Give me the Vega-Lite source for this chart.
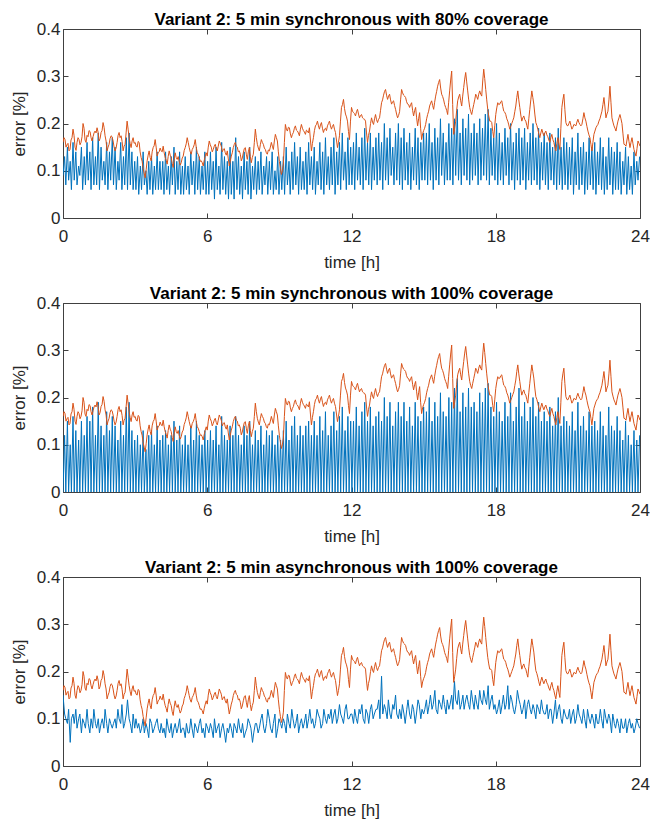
{
"$schema":"https://vega.github.io/schema/vega-lite/v6.json",
"padding":{"left":9,"top":10,"right":0,"bottom":5},
"background":"white",
"config":{
"font":"Liberation Sans",
"view":{"stroke":"#404040","strokeWidth":1},
"axis":{"labelFont":"Liberation Sans","labelFontSize":17,"labelColor":"#262626","labelFlush":false,"titleFont":"Liberation Sans","titleFontSize":17,"titleFontWeight":"normal","titleColor":"#262626","tickColor":"#404040","tickSize":-5,"domain":false,"grid":false},
"title":{"font":"Liberation Sans","fontSize":17,"fontWeight":"bold","color":"#000000","offset":-9,"anchor":"middle"}
},
"datasets":{
"orange":[
{"m":0,"o":0.160},{"m":5,"o":0.166},{"m":10,"o":0.155},{"m":15,"o":0.142},{"m":20,"o":0.165},{"m":25,"o":0.188},{"m":30,"o":0.150},{"m":35,"o":0.160},{"m":40,"o":0.166},{"m":45,"o":0.160},{"m":50,"o":0.200},{"m":55,"o":0.165},
{"m":60,"o":0.175},{"m":65,"o":0.185},{"m":70,"o":0.170},{"m":75,"o":0.172},{"m":80,"o":0.184},{"m":85,"o":0.191},{"m":90,"o":0.163},{"m":95,"o":0.181},{"m":100,"o":0.202},{"m":105,"o":0.174},{"m":110,"o":0.142},{"m":115,"o":0.156},
{"m":120,"o":0.174},{"m":125,"o":0.163},{"m":130,"o":0.142},{"m":135,"o":0.160},{"m":140,"o":0.181},{"m":145,"o":0.174},{"m":150,"o":0.142},{"m":155,"o":0.156},{"m":160,"o":0.205},{"m":165,"o":0.170},{"m":170,"o":0.149},{"m":175,"o":0.170},
{"m":180,"o":0.160},{"m":185,"o":0.150},{"m":190,"o":0.160},{"m":195,"o":0.128},{"m":200,"o":0.105},{"m":205,"o":0.085},{"m":210,"o":0.121},{"m":215,"o":0.142},{"m":220,"o":0.121},{"m":225,"o":0.149},{"m":230,"o":0.166},{"m":235,"o":0.131},
{"m":240,"o":0.140},{"m":245,"o":0.142},{"m":250,"o":0.152},{"m":255,"o":0.128},{"m":260,"o":0.114},{"m":265,"o":0.142},{"m":270,"o":0.128},{"m":275,"o":0.107},{"m":280,"o":0.138},{"m":285,"o":0.124},{"m":290,"o":0.120},{"m":295,"o":0.117},
{"m":300,"o":0.131},{"m":305,"o":0.149},{"m":310,"o":0.170},{"m":315,"o":0.149},{"m":320,"o":0.135},{"m":325,"o":0.149},{"m":330,"o":0.166},{"m":335,"o":0.138},{"m":340,"o":0.128},{"m":345,"o":0.121},{"m":350,"o":0.110},{"m":355,"o":0.131},
{"m":360,"o":0.131},{"m":365,"o":0.163},{"m":370,"o":0.150},{"m":375,"o":0.145},{"m":380,"o":0.156},{"m":385,"o":0.142},{"m":390,"o":0.163},{"m":395,"o":0.152},{"m":400,"o":0.145},{"m":405,"o":0.138},{"m":410,"o":0.142},{"m":415,"o":0.110},
{"m":420,"o":0.131},{"m":425,"o":0.149},{"m":430,"o":0.160},{"m":435,"o":0.150},{"m":440,"o":0.142},{"m":445,"o":0.121},{"m":450,"o":0.138},{"m":455,"o":0.149},{"m":460,"o":0.124},{"m":465,"o":0.149},{"m":470,"o":0.117},{"m":475,"o":0.135},
{"m":480,"o":0.188},{"m":485,"o":0.156},{"m":490,"o":0.142},{"m":495,"o":0.166},{"m":500,"o":0.156},{"m":505,"o":0.145},{"m":510,"o":0.135},{"m":515,"o":0.142},{"m":520,"o":0.160},{"m":525,"o":0.145},{"m":530,"o":0.177},{"m":535,"o":0.163},
{"m":540,"o":0.120},{"m":545,"o":0.092},{"m":550,"o":0.114},{"m":555,"o":0.198},{"m":560,"o":0.184},{"m":565,"o":0.191},{"m":570,"o":0.170},{"m":575,"o":0.181},{"m":580,"o":0.195},{"m":585,"o":0.184},{"m":590,"o":0.174},{"m":595,"o":0.198},
{"m":600,"o":0.185},{"m":605,"o":0.177},{"m":610,"o":0.184},{"m":615,"o":0.191},{"m":620,"o":0.142},{"m":625,"o":0.170},{"m":630,"o":0.195},{"m":635,"o":0.205},{"m":640,"o":0.188},{"m":645,"o":0.202},{"m":650,"o":0.181},{"m":655,"o":0.190},
{"m":660,"o":0.195},{"m":665,"o":0.205},{"m":670,"o":0.188},{"m":675,"o":0.198},{"m":680,"o":0.181},{"m":685,"o":0.149},{"m":690,"o":0.174},{"m":695,"o":0.234},{"m":700,"o":0.251},{"m":705,"o":0.220},{"m":710,"o":0.205},{"m":715,"o":0.166},
{"m":720,"o":0.234},{"m":725,"o":0.223},{"m":730,"o":0.216},{"m":735,"o":0.230},{"m":740,"o":0.212},{"m":745,"o":0.219},{"m":750,"o":0.210},{"m":755,"o":0.205},{"m":760,"o":0.160},{"m":765,"o":0.184},{"m":770,"o":0.212},{"m":775,"o":0.198},
{"m":780,"o":0.219},{"m":785,"o":0.202},{"m":790,"o":0.212},{"m":795,"o":0.244},{"m":800,"o":0.260},{"m":805,"o":0.272},{"m":810,"o":0.251},{"m":815,"o":0.262},{"m":820,"o":0.241},{"m":825,"o":0.248},{"m":830,"o":0.230},{"m":835,"o":0.212},
{"m":840,"o":0.225},{"m":845,"o":0.272},{"m":850,"o":0.260},{"m":855,"o":0.255},{"m":860,"o":0.241},{"m":865,"o":0.234},{"m":870,"o":0.244},{"m":875,"o":0.216},{"m":880,"o":0.234},{"m":885,"o":0.195},{"m":890,"o":0.223},{"m":895,"o":0.166},
{"m":900,"o":0.185},{"m":905,"o":0.198},{"m":910,"o":0.219},{"m":915,"o":0.237},{"m":920,"o":0.248},{"m":925,"o":0.230},{"m":930,"o":0.258},{"m":935,"o":0.279},{"m":940,"o":0.293},{"m":945,"o":0.262},{"m":950,"o":0.250},{"m":955,"o":0.234},
{"m":960,"o":0.219},{"m":965,"o":0.269},{"m":970,"o":0.311},{"m":975,"o":0.177},{"m":980,"o":0.205},{"m":985,"o":0.248},{"m":990,"o":0.262},{"m":995,"o":0.237},{"m":1000,"o":0.276},{"m":1005,"o":0.308},{"m":1010,"o":0.269},{"m":1015,"o":0.234},
{"m":1020,"o":0.219},{"m":1025,"o":0.240},{"m":1030,"o":0.262},{"m":1035,"o":0.251},{"m":1040,"o":0.269},{"m":1045,"o":0.258},{"m":1050,"o":0.315},{"m":1055,"o":0.272},{"m":1060,"o":0.230},{"m":1065,"o":0.205},{"m":1070,"o":0.202},{"m":1075,"o":0.170},
{"m":1080,"o":0.219},{"m":1085,"o":0.244},{"m":1090,"o":0.241},{"m":1095,"o":0.248},{"m":1100,"o":0.226},{"m":1105,"o":0.219},{"m":1110,"o":0.205},{"m":1115,"o":0.188},{"m":1120,"o":0.200},{"m":1125,"o":0.212},{"m":1130,"o":0.237},{"m":1135,"o":0.269},
{"m":1140,"o":0.234},{"m":1145,"o":0.205},{"m":1150,"o":0.216},{"m":1155,"o":0.205},{"m":1160,"o":0.188},{"m":1165,"o":0.230},{"m":1170,"o":0.269},{"m":1175,"o":0.241},{"m":1180,"o":0.202},{"m":1185,"o":0.188},{"m":1190,"o":0.170},{"m":1195,"o":0.188},
{"m":1200,"o":0.174},{"m":1205,"o":0.184},{"m":1210,"o":0.172},{"m":1215,"o":0.160},{"m":1220,"o":0.177},{"m":1225,"o":0.160},{"m":1230,"o":0.142},{"m":1235,"o":0.170},{"m":1240,"o":0.145},{"m":1245,"o":0.234},{"m":1250,"o":0.262},{"m":1255,"o":0.202},
{"m":1260,"o":0.195},{"m":1265,"o":0.205},{"m":1270,"o":0.188},{"m":1275,"o":0.198},{"m":1280,"o":0.195},{"m":1285,"o":0.209},{"m":1290,"o":0.198},{"m":1295,"o":0.198},{"m":1300,"o":0.223},{"m":1305,"o":0.205},{"m":1310,"o":0.184},{"m":1315,"o":0.170},
{"m":1320,"o":0.142},{"m":1325,"o":0.177},{"m":1330,"o":0.191},{"m":1335,"o":0.198},{"m":1340,"o":0.210},{"m":1345,"o":0.226},{"m":1350,"o":0.255},{"m":1355,"o":0.212},{"m":1360,"o":0.226},{"m":1365,"o":0.279},{"m":1370,"o":0.212},{"m":1375,"o":0.195},
{"m":1380,"o":0.184},{"m":1385,"o":0.205},{"m":1390,"o":0.219},{"m":1395,"o":0.200},{"m":1400,"o":0.156},{"m":1405,"o":0.152},{"m":1410,"o":0.177},{"m":1415,"o":0.149},{"m":1420,"o":0.170},{"m":1425,"o":0.145},{"m":1430,"o":0.131},{"m":1435,"o":0.163},
{"m":1440,"o":0.152},
{"m":2.5,"o":0.170},{"m":7.5,"o":0.150},{"m":12.5,"o":0.158},{"m":17.5,"o":0.145},{"m":22.5,"o":0.170},{"m":27.5,"o":0.175},{"m":32.5,"o":0.143},{"m":37.5,"o":0.170},{"m":42.5,"o":0.155},{"m":47.5,"o":0.172},{"m":52.5,"o":0.190},{"m":57.5,"o":0.160},
{"m":62.5,"o":0.172},{"m":67.5,"o":0.183},{"m":72.5,"o":0.163},{"m":77.5,"o":0.180},{"m":82.5,"o":0.180},{"m":87.5,"o":0.182},{"m":92.5,"o":0.168},{"m":97.5,"o":0.185},{"m":102.5,"o":0.192},{"m":107.5,"o":0.163},{"m":112.5,"o":0.150},{"m":117.5,"o":0.168},
{"m":122.5,"o":0.172},{"m":127.5,"o":0.150},{"m":132.5,"o":0.148},{"m":137.5,"o":0.175},{"m":142.5,"o":0.170},{"m":147.5,"o":0.162},{"m":152.5,"o":0.152},{"m":157.5,"o":0.180},{"m":162.5,"o":0.188},{"m":167.5,"o":0.158},{"m":172.5,"o":0.163},{"m":177.5,"o":0.158},
{"m":182.5,"o":0.152},{"m":187.5,"o":0.162},{"m":192.5,"o":0.140},{"m":197.5,"o":0.120},{"m":202.5,"o":0.095},{"m":207.5,"o":0.102},{"m":212.5,"o":0.133},{"m":217.5,"o":0.128},{"m":222.5,"o":0.140},{"m":227.5,"o":0.153},{"m":232.5,"o":0.150},{"m":237.5,"o":0.138},
{"m":242.5,"o":0.148},{"m":247.5,"o":0.140},{"m":252.5,"o":0.138},{"m":257.5,"o":0.122},{"m":262.5,"o":0.130},{"m":267.5,"o":0.133},{"m":272.5,"o":0.115},{"m":277.5,"o":0.125},{"m":282.5,"o":0.128},{"m":287.5,"o":0.130},{"m":292.5,"o":0.112},{"m":297.5,"o":0.127},
{"m":302.5,"o":0.143},{"m":307.5,"o":0.157},{"m":312.5,"o":0.160},{"m":317.5,"o":0.140},{"m":322.5,"o":0.145},{"m":327.5,"o":0.155},{"m":332.5,"o":0.150},{"m":337.5,"o":0.135},{"m":342.5,"o":0.120},{"m":347.5,"o":0.117},{"m":352.5,"o":0.122},{"m":357.5,"o":0.138},
{"m":362.5,"o":0.150},{"m":367.5,"o":0.155},{"m":372.5,"o":0.140},{"m":377.5,"o":0.152},{"m":382.5,"o":0.147},{"m":387.5,"o":0.152},{"m":392.5,"o":0.158},{"m":397.5,"o":0.140},{"m":402.5,"o":0.147},{"m":407.5,"o":0.133},{"m":412.5,"o":0.125},{"m":417.5,"o":0.120},
{"m":422.5,"o":0.138},{"m":427.5,"o":0.156},{"m":432.5,"o":0.152},{"m":437.5,"o":0.140},{"m":442.5,"o":0.135},{"m":447.5,"o":0.127},{"m":452.5,"o":0.147},{"m":457.5,"o":0.135},{"m":462.5,"o":0.140},{"m":467.5,"o":0.130},{"m":472.5,"o":0.128},{"m":477.5,"o":0.160},
{"m":482.5,"o":0.170},{"m":487.5,"o":0.148},{"m":492.5,"o":0.155},{"m":497.5,"o":0.160},{"m":502.5,"o":0.148},{"m":507.5,"o":0.138},{"m":512.5,"o":0.144},{"m":517.5,"o":0.150},{"m":522.5,"o":0.152},{"m":527.5,"o":0.163},{"m":532.5,"o":0.170},{"m":537.5,"o":0.140},
{"m":542.5,"o":0.105},{"m":547.5,"o":0.100},{"m":552.5,"o":0.160},{"m":557.5,"o":0.188},{"m":562.5,"o":0.192},{"m":567.5,"o":0.178},{"m":572.5,"o":0.177},{"m":577.5,"o":0.190},{"m":582.5,"o":0.186},{"m":587.5,"o":0.180},{"m":592.5,"o":0.188},{"m":597.5,"o":0.190},
{"m":602.5,"o":0.182},{"m":607.5,"o":0.186},{"m":612.5,"o":0.180},{"m":617.5,"o":0.165},{"m":622.5,"o":0.158},{"m":627.5,"o":0.185},{"m":632.5,"o":0.198},{"m":637.5,"o":0.195},{"m":642.5,"o":0.197},{"m":647.5,"o":0.190},{"m":652.5,"o":0.188},{"m":657.5,"o":0.185},
{"m":662.5,"o":0.200},{"m":667.5,"o":0.195},{"m":672.5,"o":0.194},{"m":677.5,"o":0.188},{"m":682.5,"o":0.165},{"m":687.5,"o":0.160},{"m":692.5,"o":0.205},{"m":697.5,"o":0.240},{"m":702.5,"o":0.232},{"m":707.5,"o":0.214},{"m":712.5,"o":0.183},{"m":717.5,"o":0.205},
{"m":722.5,"o":0.226},{"m":727.5,"o":0.221},{"m":732.5,"o":0.225},{"m":737.5,"o":0.220},{"m":742.5,"o":0.217},{"m":747.5,"o":0.212},{"m":752.5,"o":0.209},{"m":757.5,"o":0.180},{"m":762.5,"o":0.175},{"m":767.5,"o":0.200},{"m":772.5,"o":0.203},{"m":777.5,"o":0.210},
{"m":782.5,"o":0.208},{"m":787.5,"o":0.209},{"m":792.5,"o":0.228},{"m":797.5,"o":0.250},{"m":802.5,"o":0.268},{"m":807.5,"o":0.260},{"m":812.5,"o":0.258},{"m":817.5,"o":0.250},{"m":822.5,"o":0.246},{"m":827.5,"o":0.238},{"m":832.5,"o":0.220},{"m":837.5,"o":0.217},
{"m":842.5,"o":0.250},{"m":847.5,"o":0.265},{"m":852.5,"o":0.258},{"m":857.5,"o":0.246},{"m":862.5,"o":0.240},{"m":867.5,"o":0.240},{"m":872.5,"o":0.228},{"m":877.5,"o":0.227},{"m":882.5,"o":0.212},{"m":887.5,"o":0.210},{"m":892.5,"o":0.190},{"m":897.5,"o":0.178},
{"m":902.5,"o":0.190},{"m":907.5,"o":0.210},{"m":912.5,"o":0.226},{"m":917.5,"o":0.243},{"m":922.5,"o":0.238},{"m":927.5,"o":0.245},{"m":932.5,"o":0.268},{"m":937.5,"o":0.287},{"m":942.5,"o":0.275},{"m":947.5,"o":0.257},{"m":952.5,"o":0.240},{"m":957.5,"o":0.228},
{"m":962.5,"o":0.245},{"m":967.5,"o":0.292},{"m":972.5,"o":0.240},{"m":977.5,"o":0.190},{"m":982.5,"o":0.228},{"m":987.5,"o":0.256},{"m":992.5,"o":0.248},{"m":997.5,"o":0.258},{"m":1002.5,"o":0.294},{"m":1007.5,"o":0.288},{"m":1012.5,"o":0.250},{"m":1017.5,"o":0.225},
{"m":1022.5,"o":0.230},{"m":1027.5,"o":0.250},{"m":1032.5,"o":0.257},{"m":1037.5,"o":0.262},{"m":1042.5,"o":0.262},{"m":1047.5,"o":0.290},{"m":1052.5,"o":0.295},{"m":1057.5,"o":0.250},{"m":1062.5,"o":0.216},{"m":1067.5,"o":0.205},{"m":1072.5,"o":0.183},{"m":1077.5,"o":0.195},
{"m":1082.5,"o":0.233},{"m":1087.5,"o":0.240},{"m":1092.5,"o":0.246},{"m":1097.5,"o":0.236},{"m":1102.5,"o":0.224},{"m":1107.5,"o":0.210},{"m":1112.5,"o":0.197},{"m":1117.5,"o":0.194},{"m":1122.5,"o":0.206},{"m":1127.5,"o":0.225},{"m":1132.5,"o":0.255},{"m":1137.5,"o":0.250},
{"m":1142.5,"o":0.218},{"m":1147.5,"o":0.212},{"m":1152.5,"o":0.208},{"m":1157.5,"o":0.196},{"m":1162.5,"o":0.210},{"m":1167.5,"o":0.250},{"m":1172.5,"o":0.255},{"m":1177.5,"o":0.220},{"m":1182.5,"o":0.196},{"m":1187.5,"o":0.178},{"m":1192.5,"o":0.180},{"m":1197.5,"o":0.180},
{"m":1202.5,"o":0.180},{"m":1207.5,"o":0.176},{"m":1212.5,"o":0.165},{"m":1217.5,"o":0.170},{"m":1222.5,"o":0.166},{"m":1227.5,"o":0.150},{"m":1232.5,"o":0.158},{"m":1237.5,"o":0.156},{"m":1242.5,"o":0.190},{"m":1247.5,"o":0.250},{"m":1252.5,"o":0.230},{"m":1257.5,"o":0.196},
{"m":1262.5,"o":0.200},{"m":1267.5,"o":0.196},{"m":1272.5,"o":0.192},{"m":1277.5,"o":0.197},{"m":1282.5,"o":0.203},{"m":1287.5,"o":0.202},{"m":1292.5,"o":0.195},{"m":1297.5,"o":0.210},{"m":1302.5,"o":0.212},{"m":1307.5,"o":0.194},{"m":1312.5,"o":0.176},{"m":1317.5,"o":0.156},
{"m":1322.5,"o":0.160},{"m":1327.5,"o":0.184},{"m":1332.5,"o":0.195},{"m":1337.5,"o":0.205},{"m":1342.5,"o":0.218},{"m":1347.5,"o":0.240},{"m":1352.5,"o":0.235},{"m":1357.5,"o":0.220},{"m":1362.5,"o":0.250},{"m":1367.5,"o":0.245},{"m":1372.5,"o":0.203},{"m":1377.5,"o":0.190},
{"m":1382.5,"o":0.195},{"m":1387.5,"o":0.212},{"m":1392.5,"o":0.210},{"m":1397.5,"o":0.178},{"m":1402.5,"o":0.155},{"m":1407.5,"o":0.165},{"m":1412.5,"o":0.162},{"m":1417.5,"o":0.160},{"m":1422.5,"o":0.157},{"m":1427.5,"o":0.138},{"m":1432.5,"o":0.147},{"m":1437.5,"o":0.158}
],
"blue":[
{"m":0,"a":0.09,"b":0,"c":0.15},{"m":4,"a":0.13,"b":0.12,"c":0.11},
{"m":7,"a":0.07,"b":0,"c":0.10},{"m":11,"a":0.15,"b":0.15,"c":0.09},
{"m":14,"a":0.08,"b":0,"c":0.12},{"m":18,"a":0.12,"b":0.10,"c":0.05},
{"m":21,"a":0.06,"b":0,"c":0.10},{"m":25,"a":0.16,"b":0.16,"c":0.11},
{"m":28,"a":0.08,"b":0,"c":0.09},{"m":32,"a":0.14,"b":0.13,"c":0.12},
{"m":35,"a":0.07,"b":0,"c":0.08},{"m":39,"a":0.11,"b":0.11,"c":0.10},
{"m":42,"a":0.09,"b":0,"c":0.11},{"m":46,"a":0.15,"b":0.15,"c":0.07},
{"m":49,"a":0.06,"b":0,"c":0.10},{"m":53,"a":0.13,"b":0.12,"c":0.09},
{"m":56,"a":0.07,"b":0,"c":0.08},{"m":60,"a":0.16,"b":0.16,"c":0.12},
{"m":63,"a":0.08,"b":0,"c":0.09},{"m":67,"a":0.14,"b":0.15,"c":0.07},
{"m":70,"a":0.06,"b":0,"c":0.10},{"m":74,"a":0.17,"b":0.18,"c":0.08},
{"m":77,"a":0.07,"b":0,"c":0.12},{"m":81,"a":0.13,"b":0.12,"c":0.09},
{"m":84,"a":0.07,"b":0,"c":0.08},{"m":88,"a":0.18,"b":0.19,"c":0.10},
{"m":91,"a":0.06,"b":0,"c":0.07},{"m":95,"a":0.15,"b":0.14,"c":0.09},
{"m":98,"a":0.08,"b":0,"c":0.10},{"m":102,"a":0.12,"b":0.12,"c":0.08},
{"m":105,"a":0.07,"b":0,"c":0.12},{"m":109,"a":0.16,"b":0.17,"c":0.09},
{"m":112,"a":0.06,"b":0,"c":0.07},{"m":116,"a":0.14,"b":0.13,"c":0.10},
{"m":119,"a":0.08,"b":0,"c":0.09},{"m":123,"a":0.17,"b":0.16,"c":0.08},
{"m":126,"a":0.07,"b":0,"c":0.09},{"m":130,"a":0.15,"b":0.14,"c":0.10},
{"m":133,"a":0.06,"b":0,"c":0.08},{"m":137,"a":0.12,"b":0.11,"c":0.12},
{"m":140,"a":0.08,"b":0,"c":0.10},{"m":144,"a":0.16,"b":0.15,"c":0.09},
{"m":147,"a":0.06,"b":0,"c":0.13},{"m":151,"a":0.13,"b":0.12,"c":0.08},
{"m":154,"a":0.07,"b":0,"c":0.09},{"m":158,"a":0.17,"b":0.18,"c":0.11},
{"m":161,"a":0.06,"b":0,"c":0.14},{"m":165,"a":0.18,"b":0.19,"c":0.10},
{"m":168,"a":0.07,"b":0,"c":0.09},{"m":172,"a":0.14,"b":0.13,"c":0.07},
{"m":175,"a":0.06,"b":0,"c":0.11},{"m":179,"a":0.12,"b":0.11,"c":0.08},
{"m":182,"a":0.06,"b":0,"c":0.10},{"m":186,"a":0.13,"b":0.12,"c":0.08},
{"m":189,"a":0.05,"b":0,"c":0.09},{"m":193,"a":0.11,"b":0.10,"c":0.07},
{"m":196,"a":0.06,"b":0,"c":0.08},{"m":200,"a":0.14,"b":0.13,"c":0.10},
{"m":203,"a":0.07,"b":0,"c":0.07},{"m":207,"a":0.10,"b":0.09,"c":0.09},
{"m":210,"a":0.05,"b":0,"c":0.08},{"m":214,"a":0.12,"b":0.12,"c":0.06},
{"m":217,"a":0.06,"b":0,"c":0.10},{"m":221,"a":0.13,"b":0.13,"c":0.09},
{"m":224,"a":0.05,"b":0,"c":0.07},{"m":228,"a":0.11,"b":0.10,"c":0.08},
{"m":231,"a":0.06,"b":0,"c":0.09},{"m":235,"a":0.14,"b":0.14,"c":0.10},
{"m":238,"a":0.06,"b":0,"c":0.08},{"m":242,"a":0.12,"b":0.11,"c":0.07},
{"m":245,"a":0.06,"b":0,"c":0.09},{"m":249,"a":0.12,"b":0.12,"c":0.07},
{"m":252,"a":0.05,"b":0,"c":0.08},{"m":256,"a":0.14,"b":0.13,"c":0.06},
{"m":259,"a":0.06,"b":0,"c":0.10},{"m":263,"a":0.11,"b":0.10,"c":0.08},
{"m":266,"a":0.05,"b":0,"c":0.07},{"m":270,"a":0.13,"b":0.12,"c":0.09},
{"m":273,"a":0.07,"b":0,"c":0.06},{"m":277,"a":0.15,"b":0.15,"c":0.08},
{"m":280,"a":0.05,"b":0,"c":0.09},{"m":284,"a":0.12,"b":0.11,"c":0.07},
{"m":287,"a":0.06,"b":0,"c":0.08},{"m":291,"a":0.14,"b":0.14,"c":0.10},
{"m":294,"a":0.05,"b":0,"c":0.07},{"m":298,"a":0.11,"b":0.10,"c":0.08},
{"m":301,"a":0.05,"b":0,"c":0.08},{"m":305,"a":0.13,"b":0.12,"c":0.06},
{"m":308,"a":0.06,"b":0,"c":0.09},{"m":312,"a":0.11,"b":0.10,"c":0.07},
{"m":315,"a":0.05,"b":0,"c":0.07},{"m":319,"a":0.14,"b":0.14,"c":0.10},
{"m":322,"a":0.07,"b":0,"c":0.08},{"m":326,"a":0.12,"b":0.11,"c":0.06},
{"m":329,"a":0.05,"b":0,"c":0.09},{"m":333,"a":0.15,"b":0.15,"c":0.08},
{"m":336,"a":0.06,"b":0,"c":0.07},{"m":340,"a":0.13,"b":0.12,"c":0.09},
{"m":343,"a":0.05,"b":0,"c":0.10},{"m":347,"a":0.11,"b":0.10,"c":0.07},
{"m":350,"a":0.06,"b":0,"c":0.08},{"m":354,"a":0.14,"b":0.13,"c":0.06},
{"m":357,"a":0.05,"b":0,"c":0.09},{"m":361,"a":0.12,"b":0.11,"c":0.08},
{"m":364,"a":0.05,"b":0,"c":0.07},{"m":368,"a":0.14,"b":0.13,"c":0.09},
{"m":371,"a":0.06,"b":0,"c":0.08},{"m":375,"a":0.12,"b":0.11,"c":0.06},
{"m":378,"a":0.04,"b":0,"c":0.10},{"m":382,"a":0.15,"b":0.14,"c":0.07},
{"m":385,"a":0.06,"b":0,"c":0.08},{"m":389,"a":0.11,"b":0.10,"c":0.09},
{"m":392,"a":0.05,"b":0,"c":0.06},{"m":396,"a":0.16,"b":0.16,"c":0.08},
{"m":399,"a":0.06,"b":0,"c":0.09},{"m":403,"a":0.13,"b":0.12,"c":0.07},
{"m":406,"a":0.05,"b":0,"c":0.05},{"m":410,"a":0.12,"b":0.11,"c":0.08},
{"m":413,"a":0.04,"b":0,"c":0.07},{"m":417,"a":0.15,"b":0.14,"c":0.09},
{"m":420,"a":0.05,"b":0,"c":0.08},{"m":424,"a":0.12,"b":0.12,"c":0.06},
{"m":427,"a":0.04,"b":0,"c":0.09},{"m":431,"a":0.17,"b":0.16,"c":0.08},
{"m":434,"a":0.06,"b":0,"c":0.07},{"m":438,"a":0.13,"b":0.12,"c":0.10},
{"m":441,"a":0.05,"b":0,"c":0.08},{"m":445,"a":0.11,"b":0.10,"c":0.07},
{"m":448,"a":0.04,"b":0,"c":0.09},{"m":452,"a":0.14,"b":0.14,"c":0.06},
{"m":455,"a":0.06,"b":0,"c":0.07},{"m":459,"a":0.12,"b":0.12,"c":0.08},
{"m":462,"a":0.05,"b":0,"c":0.10},{"m":466,"a":0.15,"b":0.15,"c":0.09},
{"m":469,"a":0.04,"b":0,"c":0.08},{"m":473,"a":0.11,"b":0.10,"c":0.05},
{"m":476,"a":0.06,"b":0,"c":0.07},{"m":480,"a":0.13,"b":0.13,"c":0.09},
{"m":483,"a":0.05,"b":0,"c":0.09},{"m":487,"a":0.12,"b":0.11,"c":0.07},
{"m":490,"a":0.06,"b":0,"c":0.08},{"m":494,"a":0.14,"b":0.14,"c":0.10},
{"m":497,"a":0.05,"b":0,"c":0.11},{"m":501,"a":0.11,"b":0.10,"c":0.08},
{"m":504,"a":0.07,"b":0,"c":0.07},{"m":508,"a":0.13,"b":0.13,"c":0.09},
{"m":511,"a":0.05,"b":0,"c":0.12},{"m":515,"a":0.12,"b":0.12,"c":0.10},
{"m":518,"a":0.06,"b":0,"c":0.08},{"m":522,"a":0.14,"b":0.13,"c":0.07},
{"m":525,"a":0.05,"b":0,"c":0.09},{"m":529,"a":0.10,"b":0.10,"c":0.11},
{"m":532,"a":0.06,"b":0,"c":0.06},{"m":536,"a":0.13,"b":0.12,"c":0.08},
{"m":539,"a":0.05,"b":0,"c":0.10},{"m":543,"a":0.12,"b":0.11,"c":0.09},
{"m":546,"a":0.06,"b":0,"c":0.08},{"m":550,"a":0.13,"b":0.13,"c":0.10},
{"m":553,"a":0.05,"b":0,"c":0.09},{"m":557,"a":0.15,"b":0.15,"c":0.07},
{"m":560,"a":0.07,"b":0,"c":0.11},{"m":564,"a":0.12,"b":0.11,"c":0.09},
{"m":567,"a":0.05,"b":0,"c":0.08},{"m":571,"a":0.14,"b":0.14,"c":0.12},
{"m":574,"a":0.06,"b":0,"c":0.10},{"m":578,"a":0.16,"b":0.16,"c":0.08},
{"m":581,"a":0.07,"b":0,"c":0.09},{"m":585,"a":0.13,"b":0.12,"c":0.11},
{"m":588,"a":0.05,"b":0,"c":0.07},{"m":592,"a":0.15,"b":0.14,"c":0.09},
{"m":595,"a":0.06,"b":0,"c":0.10},{"m":599,"a":0.12,"b":0.12,"c":0.08},
{"m":602,"a":0.06,"b":0,"c":0.09},{"m":606,"a":0.14,"b":0.14,"c":0.11},
{"m":609,"a":0.05,"b":0,"c":0.08},{"m":613,"a":0.16,"b":0.15,"c":0.10},
{"m":616,"a":0.07,"b":0,"c":0.12},{"m":620,"a":0.13,"b":0.12,"c":0.09},
{"m":623,"a":0.06,"b":0,"c":0.10},{"m":627,"a":0.15,"b":0.15,"c":0.08},
{"m":630,"a":0.05,"b":0,"c":0.09},{"m":634,"a":0.12,"b":0.12,"c":0.12},
{"m":637,"a":0.07,"b":0,"c":0.11},{"m":641,"a":0.16,"b":0.16,"c":0.10},
{"m":644,"a":0.06,"b":0,"c":0.08},{"m":648,"a":0.14,"b":0.13,"c":0.09},
{"m":651,"a":0.05,"b":0,"c":0.12},{"m":655,"a":0.17,"b":0.17,"c":0.10},
{"m":658,"a":0.07,"b":0,"c":0.09},{"m":662,"a":0.13,"b":0.12,"c":0.11},
{"m":665,"a":0.06,"b":0,"c":0.10},{"m":669,"a":0.15,"b":0.14,"c":0.12},
{"m":672,"a":0.07,"b":0,"c":0.09},{"m":676,"a":0.17,"b":0.17,"c":0.11},
{"m":679,"a":0.05,"b":0,"c":0.12},{"m":683,"a":0.14,"b":0.13,"c":0.09},
{"m":686,"a":0.07,"b":0,"c":0.10},{"m":690,"a":0.16,"b":0.16,"c":0.13},
{"m":693,"a":0.06,"b":0,"c":0.11},{"m":697,"a":0.18,"b":0.18,"c":0.10},
{"m":700,"a":0.08,"b":0,"c":0.09},{"m":704,"a":0.14,"b":0.13,"c":0.12},
{"m":707,"a":0.06,"b":0,"c":0.13},{"m":711,"a":0.17,"b":0.16,"c":0.10},
{"m":714,"a":0.07,"b":0,"c":0.10},{"m":718,"a":0.15,"b":0.15,"c":0.11},
{"m":721,"a":0.07,"b":0,"c":0.11},{"m":725,"a":0.16,"b":0.15,"c":0.09},
{"m":728,"a":0.06,"b":0,"c":0.12},{"m":732,"a":0.18,"b":0.18,"c":0.10},
{"m":735,"a":0.08,"b":0,"c":0.09},{"m":739,"a":0.15,"b":0.14,"c":0.12},
{"m":742,"a":0.07,"b":0,"c":0.11},{"m":746,"a":0.17,"b":0.17,"c":0.13},
{"m":749,"a":0.06,"b":0,"c":0.10},{"m":753,"a":0.19,"b":0.19,"c":0.09},
{"m":756,"a":0.08,"b":0,"c":0.12},{"m":760,"a":0.16,"b":0.15,"c":0.11},
{"m":763,"a":0.07,"b":0,"c":0.09},{"m":767,"a":0.18,"b":0.18,"c":0.12},
{"m":770,"a":0.06,"b":0,"c":0.13},{"m":774,"a":0.15,"b":0.14,"c":0.10},
{"m":777,"a":0.08,"b":0,"c":0.11},{"m":781,"a":0.17,"b":0.16,"c":0.12},
{"m":784,"a":0.07,"b":0,"c":0.12},{"m":788,"a":0.18,"b":0.17,"c":0.14},
{"m":791,"a":0.08,"b":0,"c":0.10},{"m":795,"a":0.16,"b":0.15,"c":0.19},
{"m":798,"a":0.06,"b":0,"c":0.11},{"m":802,"a":0.20,"b":0.20,"c":0.13},
{"m":805,"a":0.08,"b":0,"c":0.12},{"m":809,"a":0.17,"b":0.16,"c":0.10},
{"m":812,"a":0.07,"b":0,"c":0.14},{"m":816,"a":0.19,"b":0.19,"c":0.11},
{"m":819,"a":0.09,"b":0,"c":0.10},{"m":823,"a":0.15,"b":0.14,"c":0.13},
{"m":826,"a":0.07,"b":0,"c":0.12},{"m":830,"a":0.18,"b":0.17,"c":0.15},
{"m":833,"a":0.08,"b":0,"c":0.11},{"m":837,"a":0.20,"b":0.19,"c":0.10},
{"m":840,"a":0.07,"b":0,"c":0.12},{"m":844,"a":0.17,"b":0.16,"c":0.10},
{"m":847,"a":0.06,"b":0,"c":0.13},{"m":851,"a":0.19,"b":0.19,"c":0.11},
{"m":854,"a":0.08,"b":0,"c":0.09},{"m":858,"a":0.16,"b":0.15,"c":0.12},
{"m":861,"a":0.07,"b":0,"c":0.14},{"m":865,"a":0.18,"b":0.18,"c":0.11},
{"m":868,"a":0.06,"b":0,"c":0.10},{"m":872,"a":0.15,"b":0.14,"c":0.13},
{"m":875,"a":0.08,"b":0,"c":0.12},{"m":879,"a":0.19,"b":0.19,"c":0.09},
{"m":882,"a":0.07,"b":0,"c":0.11},{"m":886,"a":0.17,"b":0.16,"c":0.14},
{"m":889,"a":0.06,"b":0,"c":0.13},{"m":893,"a":0.16,"b":0.15,"c":0.10},
{"m":896,"a":0.08,"b":0,"c":0.12},{"m":900,"a":0.18,"b":0.18,"c":0.11},
{"m":903,"a":0.08,"b":0,"c":0.12},{"m":907,"a":0.18,"b":0.17,"c":0.14},
{"m":910,"a":0.07,"b":0,"c":0.11},{"m":914,"a":0.20,"b":0.20,"c":0.13},
{"m":917,"a":0.08,"b":0,"c":0.15},{"m":921,"a":0.16,"b":0.15,"c":0.12},
{"m":924,"a":0.06,"b":0,"c":0.13},{"m":928,"a":0.19,"b":0.19,"c":0.16},
{"m":931,"a":0.08,"b":0,"c":0.12},{"m":935,"a":0.17,"b":0.16,"c":0.11},
{"m":938,"a":0.07,"b":0,"c":0.14},{"m":942,"a":0.21,"b":0.21,"c":0.13},
{"m":945,"a":0.09,"b":0,"c":0.12},{"m":949,"a":0.18,"b":0.17,"c":0.15},
{"m":952,"a":0.07,"b":0,"c":0.13},{"m":956,"a":0.16,"b":0.16,"c":0.11},
{"m":959,"a":0.08,"b":0,"c":0.14},{"m":963,"a":0.20,"b":0.20,"c":0.12},
{"m":966,"a":0.08,"b":0,"c":0.13},{"m":970,"a":0.19,"b":0.19,"c":0.15},
{"m":973,"a":0.07,"b":0,"c":0.12},{"m":977,"a":0.21,"b":0.22,"c":0.18},
{"m":980,"a":0.09,"b":0,"c":0.14},{"m":984,"a":0.23,"b":0.24,"c":0.13},
{"m":987,"a":0.08,"b":0,"c":0.16},{"m":991,"a":0.18,"b":0.17,"c":0.12},
{"m":994,"a":0.07,"b":0,"c":0.13},{"m":998,"a":0.21,"b":0.21,"c":0.15},
{"m":1001,"a":0.09,"b":0,"c":0.12},{"m":1005,"a":0.19,"b":0.18,"c":0.14},
{"m":1008,"a":0.08,"b":0,"c":0.15},{"m":1012,"a":0.22,"b":0.22,"c":0.13},
{"m":1015,"a":0.07,"b":0,"c":0.12},{"m":1019,"a":0.18,"b":0.18,"c":0.16},
{"m":1022,"a":0.08,"b":0,"c":0.14},{"m":1026,"a":0.20,"b":0.19,"c":0.12},
{"m":1029,"a":0.09,"b":0,"c":0.15},{"m":1033,"a":0.18,"b":0.17,"c":0.13},
{"m":1036,"a":0.07,"b":0,"c":0.12},{"m":1040,"a":0.21,"b":0.21,"c":0.16},
{"m":1043,"a":0.08,"b":0,"c":0.14},{"m":1047,"a":0.19,"b":0.19,"c":0.13},
{"m":1050,"a":0.09,"b":0,"c":0.16},{"m":1054,"a":0.22,"b":0.22,"c":0.14},
{"m":1057,"a":0.08,"b":0,"c":0.13},{"m":1061,"a":0.23,"b":0.23,"c":0.17},
{"m":1064,"a":0.07,"b":0,"c":0.12},{"m":1068,"a":0.19,"b":0.18,"c":0.14},
{"m":1071,"a":0.09,"b":0,"c":0.15},{"m":1075,"a":0.17,"b":0.16,"c":0.12},
{"m":1078,"a":0.08,"b":0,"c":0.13},{"m":1082,"a":0.20,"b":0.19,"c":0.11},
{"m":1085,"a":0.07,"b":0,"c":0.12},{"m":1089,"a":0.18,"b":0.17,"c":0.14},
{"m":1092,"a":0.08,"b":0,"c":0.11},{"m":1096,"a":0.16,"b":0.15,"c":0.13},
{"m":1099,"a":0.07,"b":0,"c":0.15},{"m":1103,"a":0.19,"b":0.19,"c":0.12},
{"m":1106,"a":0.09,"b":0,"c":0.13},{"m":1110,"a":0.17,"b":0.16,"c":0.17},
{"m":1113,"a":0.07,"b":0,"c":0.12},{"m":1117,"a":0.20,"b":0.21,"c":0.15},
{"m":1120,"a":0.08,"b":0,"c":0.14},{"m":1124,"a":0.16,"b":0.15,"c":0.12},
{"m":1127,"a":0.06,"b":0,"c":0.11},{"m":1131,"a":0.18,"b":0.18,"c":0.13},
{"m":1134,"a":0.08,"b":0,"c":0.16},{"m":1138,"a":0.19,"b":0.22,"c":0.14},
{"m":1141,"a":0.07,"b":0,"c":0.13},{"m":1145,"a":0.17,"b":0.16,"c":0.11},
{"m":1148,"a":0.08,"b":0,"c":0.12},{"m":1152,"a":0.19,"b":0.19,"c":0.14},
{"m":1155,"a":0.06,"b":0,"c":0.10},{"m":1159,"a":0.16,"b":0.15,"c":0.13},
{"m":1162,"a":0.08,"b":0,"c":0.14},{"m":1166,"a":0.18,"b":0.18,"c":0.12},
{"m":1169,"a":0.07,"b":0,"c":0.11},{"m":1173,"a":0.20,"b":0.20,"c":0.13},
{"m":1176,"a":0.08,"b":0,"c":0.12},{"m":1180,"a":0.17,"b":0.16,"c":0.10},
{"m":1183,"a":0.07,"b":0,"c":0.13},{"m":1187,"a":0.19,"b":0.19,"c":0.12},
{"m":1190,"a":0.06,"b":0,"c":0.11},{"m":1194,"a":0.16,"b":0.15,"c":0.14},
{"m":1197,"a":0.08,"b":0,"c":0.12},{"m":1201,"a":0.18,"b":0.17,"c":0.11},
{"m":1204,"a":0.07,"b":0,"c":0.11},{"m":1208,"a":0.16,"b":0.15,"c":0.13},
{"m":1211,"a":0.06,"b":0,"c":0.10},{"m":1215,"a":0.18,"b":0.18,"c":0.12},
{"m":1218,"a":0.08,"b":0,"c":0.12},{"m":1222,"a":0.15,"b":0.14,"c":0.09},
{"m":1225,"a":0.07,"b":0,"c":0.11},{"m":1229,"a":0.17,"b":0.17,"c":0.14},
{"m":1232,"a":0.06,"b":0,"c":0.10},{"m":1236,"a":0.19,"b":0.20,"c":0.12},
{"m":1239,"a":0.07,"b":0,"c":0.13},{"m":1243,"a":0.15,"b":0.14,"c":0.10},
{"m":1246,"a":0.06,"b":0,"c":0.09},{"m":1250,"a":0.17,"b":0.16,"c":0.12},
{"m":1253,"a":0.07,"b":0,"c":0.11},{"m":1257,"a":0.16,"b":0.15,"c":0.10},
{"m":1260,"a":0.06,"b":0,"c":0.10},{"m":1264,"a":0.15,"b":0.14,"c":0.12},
{"m":1267,"a":0.07,"b":0,"c":0.09},{"m":1271,"a":0.17,"b":0.17,"c":0.11},
{"m":1274,"a":0.05,"b":0,"c":0.12},{"m":1278,"a":0.14,"b":0.13,"c":0.09},
{"m":1281,"a":0.07,"b":0,"c":0.10},{"m":1285,"a":0.18,"b":0.19,"c":0.13},
{"m":1288,"a":0.06,"b":0,"c":0.11},{"m":1292,"a":0.15,"b":0.14,"c":0.10},
{"m":1295,"a":0.07,"b":0,"c":0.09},{"m":1299,"a":0.16,"b":0.16,"c":0.12},
{"m":1302,"a":0.05,"b":0,"c":0.10},{"m":1306,"a":0.14,"b":0.13,"c":0.08},
{"m":1309,"a":0.06,"b":0,"c":0.12},{"m":1313,"a":0.17,"b":0.17,"c":0.10},
{"m":1316,"a":0.07,"b":0,"c":0.09},{"m":1320,"a":0.15,"b":0.14,"c":0.11},
{"m":1323,"a":0.06,"b":0,"c":0.10},{"m":1327,"a":0.16,"b":0.15,"c":0.08},
{"m":1330,"a":0.05,"b":0,"c":0.11},{"m":1334,"a":0.14,"b":0.13,"c":0.09},
{"m":1337,"a":0.07,"b":0,"c":0.09},{"m":1341,"a":0.17,"b":0.17,"c":0.12},
{"m":1344,"a":0.06,"b":0,"c":0.10},{"m":1348,"a":0.15,"b":0.14,"c":0.08},
{"m":1351,"a":0.05,"b":0,"c":0.12},{"m":1355,"a":0.13,"b":0.12,"c":0.10},
{"m":1358,"a":0.06,"b":0,"c":0.09},{"m":1362,"a":0.17,"b":0.18,"c":0.11},
{"m":1365,"a":0.07,"b":0,"c":0.10},{"m":1369,"a":0.15,"b":0.14,"c":0.07},
{"m":1372,"a":0.05,"b":0,"c":0.11},{"m":1376,"a":0.14,"b":0.13,"c":0.09},
{"m":1379,"a":0.06,"b":0,"c":0.08},{"m":1383,"a":0.16,"b":0.16,"c":0.10},
{"m":1386,"a":0.06,"b":0,"c":0.09},{"m":1390,"a":0.14,"b":0.13,"c":0.07},
{"m":1393,"a":0.05,"b":0,"c":0.10},{"m":1397,"a":0.12,"b":0.11,"c":0.08},
{"m":1400,"a":0.07,"b":0,"c":0.08},{"m":1404,"a":0.15,"b":0.15,"c":0.10},
{"m":1407,"a":0.05,"b":0,"c":0.07},{"m":1411,"a":0.13,"b":0.12,"c":0.09},
{"m":1414,"a":0.06,"b":0,"c":0.10},{"m":1418,"a":0.11,"b":0.10,"c":0.08},
{"m":1421,"a":0.05,"b":0,"c":0.09},{"m":1425,"a":0.14,"b":0.13,"c":0.07},
{"m":1428,"a":0.07,"b":0,"c":0.08},{"m":1432,"a":0.12,"b":0.11,"c":0.10},
{"m":1435,"a":0.08,"b":0,"c":0.09},{"m":1439,"a":0.13,"b":0.12,"c":0.08}
]
},
"spacing":13,
"vconcat":[
{"width":577,"height":189,"title":"Variant 2: 5 min synchronous with 80% coverage",
"resolve":{"axis":{"x":"independent","y":"independent"}},
"layer":[
{"data":{"name":"blue"},"mark":{"type":"line","color":"#0072BD","strokeWidth":1,"clip":true},
"encoding":{"x":{"field":"m","type":"quantitative","scale":{"domain":[0,1440],"nice":false},"axis":{"orient":"bottom","values":[0,360,720,1080,1440],"labelExpr":"format(datum.value/60,'d')","title":"time [h]","labelPadding":15,"titlePadding":10}},
"y":{"field":"a","type":"quantitative","scale":{"domain":[0,0.4],"nice":false},"axis":{"orient":"left","values":[0,0.1,0.2,0.3,0.4],"format":".1~f","title":"error [%]","labelPadding":8,"titlePadding":8}}}},
{"data":{"name":"orange"},"mark":{"type":"line","color":"#D95319","strokeWidth":1,"clip":true},
"encoding":{"x":{"field":"m","type":"quantitative","scale":{"domain":[0,1440],"nice":false},"axis":{"orient":"top","values":[0,360,720,1080,1440],"labels":false,"title":null,"minExtent":0,"maxExtent":0}},
"y":{"field":"o","type":"quantitative","scale":{"domain":[0,0.4],"nice":false},"axis":{"orient":"right","values":[0,0.1,0.2,0.3,0.4],"labels":false,"title":null,"minExtent":0,"maxExtent":0}}}}
]},
{"width":577,"height":189,"title":"Variant 2: 5 min synchronous with 100% coverage",
"resolve":{"axis":{"x":"independent","y":"independent"}},
"layer":[
{"data":{"name":"blue"},"mark":{"type":"line","color":"#0072BD","strokeWidth":1,"clip":true},
"encoding":{"x":{"field":"m","type":"quantitative","scale":{"domain":[0,1440],"nice":false},"axis":{"orient":"bottom","values":[0,360,720,1080,1440],"labelExpr":"format(datum.value/60,'d')","title":"time [h]","labelPadding":15,"titlePadding":10}},
"y":{"field":"b","type":"quantitative","scale":{"domain":[0,0.4],"nice":false},"axis":{"orient":"left","values":[0,0.1,0.2,0.3,0.4],"format":".1~f","title":"error [%]","labelPadding":8,"titlePadding":8}}}},
{"data":{"name":"orange"},"mark":{"type":"line","color":"#D95319","strokeWidth":1,"clip":true},
"encoding":{"x":{"field":"m","type":"quantitative","scale":{"domain":[0,1440],"nice":false},"axis":{"orient":"top","values":[0,360,720,1080,1440],"labels":false,"title":null,"minExtent":0,"maxExtent":0}},
"y":{"field":"o","type":"quantitative","scale":{"domain":[0,0.4],"nice":false},"axis":{"orient":"right","values":[0,0.1,0.2,0.3,0.4],"labels":false,"title":null,"minExtent":0,"maxExtent":0}}}}
]},
{"width":577,"height":189,"title":"Variant 2: 5 min asynchronous with 100% coverage",
"resolve":{"axis":{"x":"independent","y":"independent"}},
"layer":[
{"data":{"name":"blue"},"mark":{"type":"line","color":"#0072BD","strokeWidth":1,"clip":true},
"encoding":{"x":{"field":"m","type":"quantitative","scale":{"domain":[0,1440],"nice":false},"axis":{"orient":"bottom","values":[0,360,720,1080,1440],"labelExpr":"format(datum.value/60,'d')","title":"time [h]","labelPadding":15,"titlePadding":10}},
"y":{"field":"c","type":"quantitative","scale":{"domain":[0,0.4],"nice":false},"axis":{"orient":"left","values":[0,0.1,0.2,0.3,0.4],"format":".1~f","title":"error [%]","labelPadding":8,"titlePadding":8}}}},
{"data":{"name":"orange"},"mark":{"type":"line","color":"#D95319","strokeWidth":1,"clip":true},
"encoding":{"x":{"field":"m","type":"quantitative","scale":{"domain":[0,1440],"nice":false},"axis":{"orient":"top","values":[0,360,720,1080,1440],"labels":false,"title":null,"minExtent":0,"maxExtent":0}},
"y":{"field":"o","type":"quantitative","scale":{"domain":[0,0.4],"nice":false},"axis":{"orient":"right","values":[0,0.1,0.2,0.3,0.4],"labels":false,"title":null,"minExtent":0,"maxExtent":0}}}}
]}
]
}
